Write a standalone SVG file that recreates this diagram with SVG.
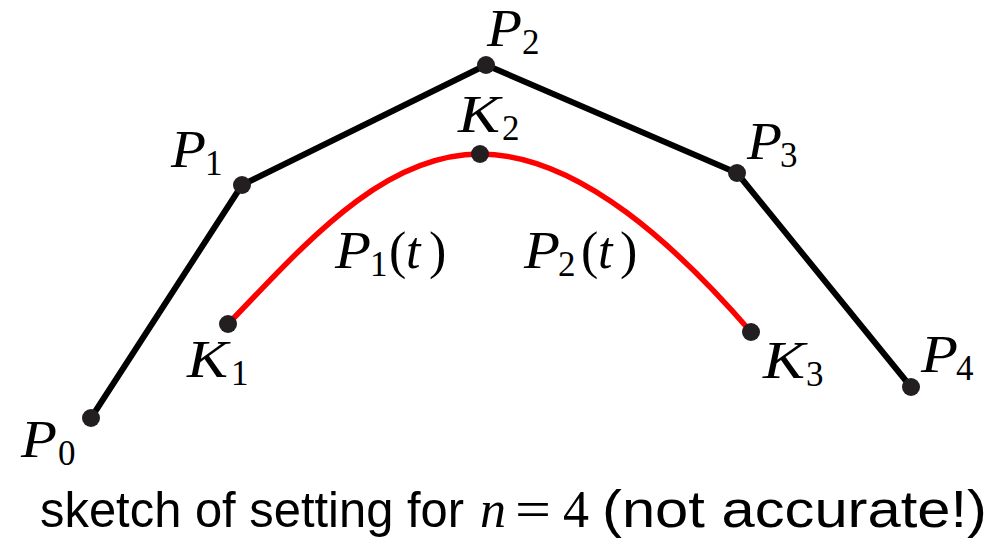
<svg xmlns="http://www.w3.org/2000/svg" width="991" height="545" viewBox="0 0 991 545">
<style>
.m{font-family:"Liberation Serif","DejaVu Serif",serif;font-size:52px;fill:#000}
.i{font-style:italic}
.s{font-size:35px;font-style:normal}
.sans{font-family:"Liberation Sans","DejaVu Sans",sans-serif;font-size:52px;font-style:normal}
.sa{font-size:50px}
.dot{fill:#231f20}
.poly{fill:none;stroke:#000;stroke-width:6;stroke-linejoin:round}
.curve{fill:none;stroke:#ff0000;stroke-width:5.5}
</style>
<g id="connectors">
<polyline class="poly" points="91,418 242,185 486,65 737,173 911,387"/>
<path class="curve" d="M228,324 C300,250 380,154 480,154 C580,154 680,250 751,332"/>
</g>
<g id="P0"><circle class="dot" cx="91" cy="418" r="9"/><text class="m"><tspan class="i" x="21" y="457" textLength="36" lengthAdjust="spacingAndGlyphs">P</tspan><tspan class="s" x="58" y="465">0</tspan></text></g>
<g id="P1"><circle class="dot" cx="242" cy="185" r="9"/><text class="m"><tspan class="i" x="171" y="167" textLength="35" lengthAdjust="spacingAndGlyphs">P</tspan><tspan class="s" x="205" y="175">1</tspan></text></g>
<g id="P2"><circle class="dot" cx="486" cy="65" r="9"/><text class="m"><tspan class="i" x="487" y="46" textLength="35" lengthAdjust="spacingAndGlyphs">P</tspan><tspan class="s" x="522" y="54">2</tspan></text></g>
<g id="P3"><circle class="dot" cx="737" cy="173" r="9"/><text class="m"><tspan class="i" x="747" y="159" textLength="35" lengthAdjust="spacingAndGlyphs">P</tspan><tspan class="s" x="780" y="167">3</tspan></text></g>
<g id="P4"><circle class="dot" cx="911" cy="387" r="9"/><text class="m"><tspan class="i" x="921" y="372" textLength="37" lengthAdjust="spacingAndGlyphs">P</tspan><tspan class="s" x="956" y="380">4</tspan></text></g>
<g id="K1"><circle class="dot" cx="228" cy="324" r="9"/><text class="m"><tspan class="i" x="187" y="377" textLength="41" lengthAdjust="spacingAndGlyphs">K</tspan><tspan class="s" x="231" y="385">1</tspan></text></g>
<g id="K2"><circle class="dot" cx="480" cy="154" r="9"/><text class="m"><tspan class="i" x="458" y="132" textLength="42" lengthAdjust="spacingAndGlyphs">K</tspan><tspan class="s" x="502" y="140">2</tspan></text></g>
<g id="K3"><circle class="dot" cx="751" cy="332" r="9"/><text class="m"><tspan class="i" x="763" y="378" textLength="42" lengthAdjust="spacingAndGlyphs">K</tspan><tspan class="s" x="806" y="386">3</tspan></text></g>
<g id="label-P1t"><text class="m"><tspan class="i" x="335" y="268" textLength="36" lengthAdjust="spacingAndGlyphs">P</tspan><tspan class="s" x="370" y="276">1</tspan><tspan x="389" y="268">(</tspan><tspan class="i" x="406" y="268">t</tspan><tspan x="429" y="268">)</tspan></text></g>
<g id="label-P2t"><text class="m"><tspan class="i" x="524" y="268" textLength="36" lengthAdjust="spacingAndGlyphs">P</tspan><tspan class="s" x="558" y="276">2</tspan><tspan x="581" y="268">(</tspan><tspan class="i" x="598" y="268">t</tspan><tspan x="620" y="268">)</tspan></text></g>
<g id="caption">
<text class="m" y="527"><tspan class="sans sa" x="40" textLength="424" lengthAdjust="spacingAndGlyphs">sketch of setting for</tspan><tspan class="i" x="480">n</tspan><tspan x="515" textLength="36" lengthAdjust="spacingAndGlyphs">=</tspan><tspan x="563">4</tspan><tspan class="sans" x="602" textLength="385" lengthAdjust="spacingAndGlyphs">(not accurate!)</tspan></text>
</g>
</svg>
